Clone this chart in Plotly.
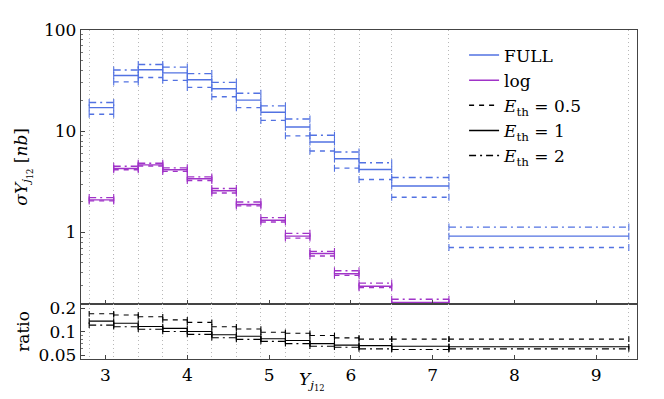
import plotly.graph_objects as go
from plotly.subplots import make_subplots

# bin edges in Y_j12
edges = [2.8, 3.1, 3.4, 3.7, 4.0, 4.3, 4.6, 4.9, 5.2, 5.5, 5.8, 6.1, 6.5, 7.2, 9.4]

# cross sections [nb], FULL
full_05 = [14.7, 30.7, 34.0, 31.8, 27.1, 21.9, 17.1, 12.8, 9.0, 6.37, 4.32, 3.34, 2.23, 0.71]
full_1 = [17.1, 35.5, 40.5, 37.7, 32.3, 26.3, 20.3, 15.4, 11.0, 7.83, 5.34, 4.19, 2.88, 0.92]
full_2 = [19.2, 40.3, 45.6, 43.0, 37.1, 30.4, 23.7, 17.8, 13.2, 9.14, 6.23, 4.89, 3.49, 1.13]

# cross sections [nb], log
log_05 = [2.05, 4.16, 4.54, 4.01, 3.26, 2.45, 1.83, 1.27, 0.88, 0.585, 0.377, 0.285, 0.195, 0.057]
log_1 = [2.10, 4.28, 4.65, 4.16, 3.39, 2.58, 1.89, 1.32, 0.92, 0.62, 0.391, 0.294, 0.203, 0.059]
log_2 = [2.21, 4.51, 4.82, 4.35, 3.54, 2.72, 2.00, 1.40, 0.98, 0.65, 0.418, 0.316, 0.219, 0.068]

# ratio panel
ratio_05 = [0.169, 0.163, 0.155, 0.141, 0.131, 0.115, 0.108, 0.098, 0.095, 0.089, 0.083, 0.080, 0.080, 0.080]
ratio_1 = [0.136, 0.128, 0.116, 0.110, 0.100, 0.091, 0.087, 0.081, 0.077, 0.070, 0.067, 0.066, 0.065, 0.064]
ratio_2 = [0.121, 0.115, 0.107, 0.100, 0.092, 0.0835, 0.0795, 0.075, 0.070, 0.065, 0.063, 0.060, 0.059, 0.060]

x_ticks = [3, 4, 5, 6, 7, 8, 9]
main_ticks = [1, 10, 100]
ratio_ticks = [0.05, 0.1, 0.2]

BLUE = "#5272e2"
PURPLE = "#a033c8"
FONT = "DejaVu Serif"
DASH = {"0.5": "5px,5px", "1": "solid", "2": "7px,4px,2px,4px"}


def steps(vals):
    xs, ys = [], []
    for lo, hi, v in zip(edges[:-1], edges[1:], vals):
        xs += [lo, hi, None]
        ys += [v, v, None]
    return xs, ys


def hist(fig, vals, color, dash, row, width=1.4, cap=5):
    xs, ys = steps(vals)
    fig.add_trace(go.Scatter(
        x=xs, y=ys, mode="lines+markers", showlegend=False,
        line=dict(color=color, width=width, dash=dash),
        marker=dict(symbol="line-ns", size=cap, line=dict(color=color, width=1.1)),
        hoverinfo="skip"), row=row, col=1)


fig = make_subplots(rows=2, cols=1, shared_xaxes=True, vertical_spacing=0,
                    row_heights=[0.832, 0.168])

for vals, key in [(full_05, "0.5"), (full_1, "1"), (full_2, "2")]:
    hist(fig, vals, BLUE, DASH[key], 1)
for vals, key in [(log_05, "0.5"), (log_1, "1"), (log_2, "2")]:
    hist(fig, vals, PURPLE, DASH[key], 1)
for vals, key in [(ratio_05, "0.5"), (ratio_1, "1"), (ratio_2, "2")]:
    hist(fig, vals, "black", DASH[key], 2, width=1.1, cap=4)

# legend entries
legend_items = [
    ("FULL", BLUE, "solid"),
    ("log", PURPLE, "solid"),
    ("<i>E</i><sub>th</sub> = 0.5", "black", DASH["0.5"]),
    ("<i>E</i><sub>th</sub> = 1", "black", DASH["1"]),
    ("<i>E</i><sub>th</sub> = 2", "black", DASH["2"]),
]
for name, color, dash in legend_items:
    fig.add_trace(go.Scatter(x=[None], y=[None], mode="lines", name=name,
                             line=dict(color=color, width=1.5, dash=dash)),
                  row=1, col=1)

minor_main = [m * 10 ** e for e in (-1, 0, 1) for m in range(2, 10)]
minor_ratio = [0.04, 0.06, 0.07, 0.08, 0.09]

axis_common = dict(showline=True, mirror=True, linecolor="#444", linewidth=1.3,
                   ticks="inside", tickcolor="#444", ticklen=4,
                   tickfont=dict(family=FONT, size=17, color="black"),
                   showgrid=False, zeroline=False)

xminor = dict(tickvals=edges, ticks="", showgrid=True, gridcolor="#b8b8b8",
              griddash="1px,3px", gridwidth=1)

fig.update_xaxes(range=[2.7, 9.5], tickvals=x_ticks, minor=xminor, **axis_common)
fig.update_xaxes(showticklabels=False, row=1, col=1)

fig.update_yaxes(type="log", range=[-0.704, 2.0], tickvals=main_ticks,
                 ticktext=["1", "10", "100"],
                 minor=dict(tickvals=minor_main, ticks="inside", ticklen=2, tickcolor="#777"),
                 title=dict(text="<i>σY</i><sub><i>j</i><sub>12</sub></sub> [<i>nb</i>]",
                            font=dict(family=FONT, size=17), standoff=12),
                 row=1, col=1, **axis_common)
fig.update_yaxes(type="log", range=[-1.351, -0.644], tickvals=ratio_ticks,
                 ticktext=["0.05", "0.1", "0.2"],
                 minor=dict(tickvals=minor_ratio, ticks="inside", ticklen=2, tickcolor="#777"),
                 title=dict(text="ratio", font=dict(family=FONT, size=17), standoff=4),
                 row=2, col=1, **axis_common)

fig.add_annotation(text="<i>Y</i><sub><i>j</i><sub>12</sub></sub>", xref="paper", yref="paper",
                   x=0.416, y=-0.023, yanchor="top", showarrow=False,
                   font=dict(family=FONT, size=17, color="black"))

# the page body adds an 8px offset, so margins are trimmed on the top/left
fig.update_layout(
    width=664, height=399,
    margin=dict(l=73, r=35, t=13, b=48),
    paper_bgcolor="white", plot_bgcolor="white",
    font=dict(family=FONT, size=17, color="black"),
    legend=dict(x=0.689, y=0.977, xanchor="left", yanchor="top",
                bgcolor="rgba(255,255,255,0)", font=dict(family=FONT, size=17),
                tracegroupgap=0, itemwidth=30),
    showlegend=True,
)

fig.write_html("out.html")
